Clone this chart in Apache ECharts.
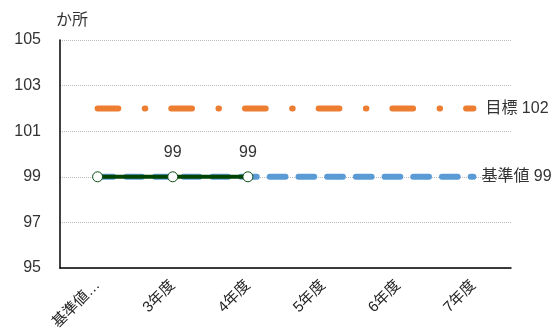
<!DOCTYPE html>
<html><head><meta charset="utf-8">
<script src="https://cdn.jsdelivr.net/npm/echarts@6/dist/echarts.min.js"></script>
<style>html,body{margin:0;padding:0;background:#fff}#c{width:558px;height:329px}</style>
</head><body><div id="c"></div>
<script>
var categories = ['基準値…', '3年度', '4年度', '5年度', '6年度', '7年度'];
var targetValues = [102, 102, 102, 102, 102, 102];
var baselineValues = [99, 99, 99, 99, 99, 99];
var actualValues = [99, 99, 99];
var actualLabelShown = [false, true, true];
var yTicks = [95, 97, 99, 101, 103, 105];
var unitLabel = 'か所';
var targetName = '目標';
var baselineName = '基準値';

var FONT = '"Liberation Sans", "Noto Sans CJK JP", sans-serif';
var chart = echarts.init(document.getElementById('c'), null, {renderer: 'canvas'});
chart.setOption({
  animation: false,
  textStyle: {fontFamily: FONT},
  title: {text: unitLabel, left: 51, top: 8, textStyle: {fontSize: 16, fontWeight: 'normal', color: '#333', fontFamily: FONT}},
  grid: {left: 60, right: 47, top: 40, bottom: 61, containLabel: false, outerBoundsMode: 'none'},
  xAxis: {
    type: 'category', data: categories, boundaryGap: true,
    axisLine: {lineStyle: {color: '#000', width: 1.5}},
    axisTick: {inside: true, length: 4, lineStyle: {color: '#999'}},
    axisLabel: {rotate: 45, fontSize: 15, color: '#222', margin: 15, fontFamily: FONT}
  },
  yAxis: {
    type: 'value', min: yTicks[0], max: yTicks[yTicks.length - 1], interval: 2,
    axisLine: {show: true, lineStyle: {color: '#000', width: 1.5}},
    axisTick: {show: false},
    axisLabel: {fontSize: 16, color: '#333', margin: 19, fontFamily: FONT},
    splitLine: {lineStyle: {color: '#bbb', type: [1, 1], width: 1}}
  },
  series: [
    {
      name: targetName, type: 'line', data: targetValues, symbol: 'none', z: 3,
      lineStyle: {color: '#ED7D31', width: 6, cap: 'round', type: [20.7, 26.5, 0.5, 26]},
      endLabel: {show: true, formatter: function (p) { return targetName + ' ' + p.value; }, distance: 12, fontSize: 16, color: '#333', fontFamily: FONT}
    },
    {
      name: baselineName, type: 'line', data: baselineValues, symbol: 'none', z: 3,
      lineStyle: {color: '#5B9BD5', width: 6, cap: 'round', type: [15.7, 13]},
      endLabel: {show: true, formatter: function (p) { return baselineName + ' ' + p.value; }, distance: 8, fontSize: 16, color: '#333', fontFamily: FONT}
    },
    {
      name: '実績', type: 'line', z: 5,
      data: actualValues.map(function (v, i) { return {value: v, label: {show: actualLabelShown[i]}}; }),
      symbol: 'circle', symbolSize: 10,
      itemStyle: {color: '#fff', borderColor: '#0B4D14', borderWidth: 1},
      lineStyle: {color: '#004400', width: 4},
      label: {position: 'top', distance: 11, fontSize: 16, color: '#333', fontFamily: FONT}
    }
  ]
});
</script></body></html>
